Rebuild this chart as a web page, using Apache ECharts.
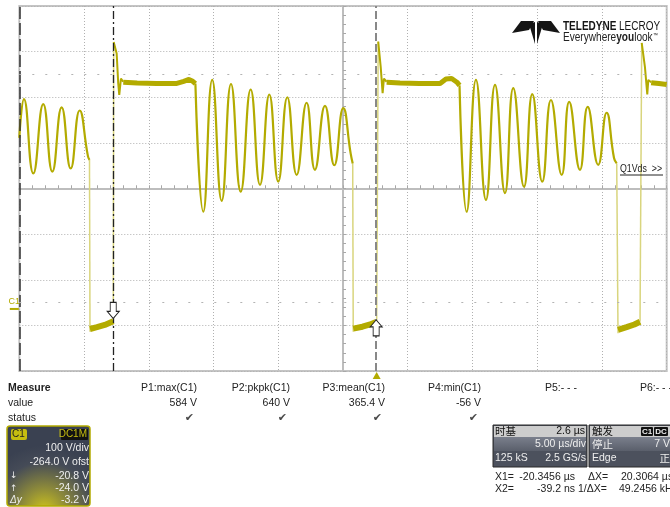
<!DOCTYPE html>
<html><head><meta charset="utf-8">
<script src="https://cdn.jsdelivr.net/npm/echarts@6/dist/echarts.min.js"></script>
<style>html,body{margin:0;padding:0;background:#fff}#c{width:670px;height:507px}</style>
</head><body><div id="c"></div>
<script>
// ---- scope settings ----
const timeRange = [-27.6, 22.4];      // µs (5 µs/div, delay 2.6 µs)
const voltRange = [-136, 664];        // V (100 V/div, offset -264 V)
const cursorX1 = -20.3456;            // µs
const cursorX2 = -0.0392;             // µs
const cursorY1 = -20.8;               // V
const cursorY2 = -24.0;               // V

// ---- waveform (time µs, volts) ----
const ringing1 = [[-27.60,375],[-27.24,460],[-26.52,297],[-25.75,449],[-25.05,301],[-24.33,442],[-23.63,308],[-22.94,435],[-22.30,335],[-22.18,327]];
const low1 = [[-22.14,-44],[-21.6,-40],[-21.0,-35],[-20.34,-27]];
const spike1 = [[-20.31,585],[-20.23,586],[-20.08,560],[-19.96,495],[-19.88,469],[-19.75,505],[-19.57,498]];
const plateau1 = [[-19.57,497],[-18.5,495],[-17.0,494],[-15.5,494],[-14.9,499],[-14.5,503],[-14.2,499],[-14.0,494]];
const ringing2 = [[-14.0,494],[-13.39,213],[-12.70,502],[-11.97,237],[-11.25,493],[-10.50,257],[-9.73,481],[-9.01,272],[-8.29,470],[-7.60,279],[-6.90,464],[-6.18,294],[-5.41,452],[-4.77,305],[-3.99,445],[-3.27,315],[-2.58,440],[-2.01,341],[-1.85,319]];
const low2 = [[-1.81,-43],[-1.1,-39],[-0.5,-34],[0.0,-28]];
const spike2 = [[0.12,586],[0.20,586],[0.31,531],[0.46,473],[0.56,505],[0.77,498]];
const plateau2 = [[0.77,497],[1.8,495],[3.3,494],[4.9,494],[5.35,504],[5.79,505],[6.2,497],[6.4,490]];
const ringing3 = [[6.4,490],[6.95,213],[7.67,502],[8.44,239],[9.14,491],[9.91,254],[10.55,484],[11.38,268],[12.02,471],[12.79,279],[13.46,458],[14.29,294],[14.87,454],[15.70,305],[16.30,443],[17.11,316],[17.76,430],[18.33,331],[18.54,319]];
const low3 = [[18.64,-46],[19.3,-40],[19.9,-34],[20.34,-28]];
const spike3 = [[20.47,583],[20.55,583],[20.72,530],[20.90,470],[20.98,502],[21.2,497]];
const plateau3 = [[21.2,496],[21.8,494],[22.4,492]];
const edges = [
  [[-22.18,327],[-22.14,-50]],
  [[-20.34,-27],[-20.31,585]],
  [[-1.85,319],[-1.81,-50]],
  [[0.0,-28],[0.12,586]],
  [[18.54,319],[18.64,-53]],
  [[20.34,-28],[20.47,583]]
];

// ---- measurement table text ----
const measHeaders = ['P1:max(C1)','P2:pkpk(C1)','P3:mean(C1)','P4:min(C1)','P5:- - -','P6:- - -'];
const measValues  = ['584 V','640 V','365.4 V','-56 V','',''];
const measStatus  = [true,true,true,true,false,false];
const measRight   = [197,290,385,481,577,672];

const FONT = '"Liberation Sans", Arial, sans-serif';
const CJK = '"Noto Sans CJK SC", "Liberation Sans", sans-serif';
const TRACE = '#b3ab00', EDGE = '#d9d57e';

function seriesOf(data, width, smooth, color, z) {
  return {type:'line', xAxisIndex:2, yAxisIndex:2, data:data, symbol:'none', showSymbol:false,
    smooth:smooth, lineStyle:{color:color, width:width}, silent:true, animation:false, z:z||3};
}
const series = [];
[low1, low2, low3].forEach(d => series.push(seriesOf(d, 6, false, TRACE, 3)));
[plateau1, plateau2, plateau3].forEach(d => series.push(seriesOf(d, 5, false, TRACE, 3)));
edges.forEach(d => series.push(seriesOf(d, 1.5, false, EDGE, 2)));
[spike1, spike2, spike3].forEach(d => series.push(seriesOf(d, 2, false, TRACE, 3)));
[ringing1, ringing2, ringing3].forEach(d => series.push(seriesOf(d, 2.2, 0.5, TRACE, 3)));

// grid decorations (left dashed edge, ±2.5 div dotted rows)
series.push({type:'line', xAxisIndex:0, yAxisIndex:0, data:[[-5,-4]], symbol:'none', silent:true, animation:false,
  markLine:{silent:true, symbol:['none','none'], label:{show:false}, animation:false,
    data:[
      {xAxis:-5, lineStyle:{color:'#333', width:1.5, type:[12,4]}},
      {yAxis:2.5, lineStyle:{color:'#b4b4b4', width:1, type:[2,11]}},
      {yAxis:-2.5, lineStyle:{color:'#b4b4b4', width:1, type:[2,11]}}
    ]}});

// cursors and markers on data axes
const downArrow = 'path://M3,0 L9,0 L9,9 L12,9 L6,16 L0,9 L3,9 Z';
const upArrow = 'path://M6,0 L12,7 L9,7 L9,16 L3,16 L3,7 L0,7 Z';
series.push({type:'line', xAxisIndex:2, yAxisIndex:2, data:[[timeRange[0], voltRange[0]]], symbol:'none',
  silent:true, animation:false, clip:false, z:6,
  markLine:{silent:true, symbol:['none','none'], label:{show:false}, animation:false,
    data:[
      {xAxis:cursorX1, lineStyle:{color:'#222', width:1.3, type:[8,3,2,3]}},
      {xAxis:cursorX2, lineStyle:{color:'#888', width:2, type:[8,3]}}
    ]},
  markPoint:{silent:true, animation:false, label:{show:false},
    data:[
      {coord:[cursorX1, cursorY1], symbol:downArrow, symbolSize:[12,16], symbolOffset:[0,-8],
        itemStyle:{color:'#fff', borderColor:'#222', borderWidth:1}},
      {coord:[cursorX2, cursorY2], symbol:upArrow, symbolSize:[12,16], symbolOffset:[0,8],
        itemStyle:{color:'#fff', borderColor:'#222', borderWidth:1}},
      {coord:[0, voltRange[0]], symbol:'triangle', symbolSize:[8,7], symbolOffset:[0,4.5],
        itemStyle:{color:TRACE}},
      {coord:[timeRange[0], 0], symbol:'rect', symbolSize:[9,2], symbolOffset:[-5,0],
        itemStyle:{color:TRACE},
        label:{show:true, formatter:'C1', position:'top', distance:2, color:TRACE, fontSize:9, fontFamily:FONT}}
    ]}
});

function gridAxis(dim, inside) {
  const isX = dim === 'x';
  return {type:'value', gridIndex:0, min:isX?-5:-4, max:isX?5:4, interval:1,
    axisLine:{show:true, onZero:true, onZeroAxisIndex:0, lineStyle:{color:'#bdbdbd', width:2}},
    axisTick:{show:true, inside:inside, length:3, lineStyle:{color:'#a8a8a8', width:1}},
    minorTick:{show:true, splitNumber:5, length:3, lineStyle:{color:'#a8a8a8', width:1}},
    axisLabel:{show:false},
    splitLine:{show:inside, lineStyle:{color:'#b0b0b0', width:1, type:[1,2]}},
    minorSplitLine:{show:false}};
}

// ---- graphic texts ----
const G = [];
function txt(text, x, y, o) {
  o = o || {};
  G.push({type:'text', x:x, y:y, z:20, silent:true, scaleX:o.sx || 1, style:{text:text, font:o.font || ('10.5px ' + FONT),
    fill:o.fill || '#222', align:o.align || 'left', verticalAlign:'middle'}});
}
function rect(x, y, w, h, fill, stroke, lw, r) {
  G.push({type:'rect', z:15, silent:true, shape:{x:x, y:y, width:w, height:h, r:r||0},
    style:{fill:fill, stroke:stroke||null, lineWidth:lw||0}});
}
// measurement table
txt('Measure', 8, 388, {font:'bold 10.5px ' + FONT});
txt('value', 8, 403);
txt('status', 8, 418);
measHeaders.forEach((h, i) => {
  txt(h, measRight[i], 388, {align:'right'});
  if (measValues[i]) txt(measValues[i], measRight[i], 403, {align:'right'});
  if (measStatus[i]) txt('\u2714', measRight[i] - 3, 418, {align:'right', fill:'#4a4a4a', font:'11px "DejaVu Sans", sans-serif'});
});
// C1 channel box
rect(7, 426, 83, 80, new echarts.graphic.RadialGradient(0.45, 1.05, 0.8, [
  {offset:0, color:'#cfc51c'}, {offset:0.35, color:'#8d8a3a'}, {offset:0.75, color:'#454b57'}, {offset:1, color:'#3a4151'}]),
  '#b3ab00', 1.5, 3);
rect(11, 429, 16, 11, '#c6bd10', null, 0, 2);
txt('C1', 12, 434.5, {fill:'#222', font:'10px ' + FONT});
rect(61, 429, 27, 11, '#111', null, 0, 1);
txt('DC1M', 87, 434.5, {fill:'#c6bd10', font:'10px ' + FONT, align:'right'});
txt('100 V/div', 89, 448, {fill:'#eee', align:'right'});
txt('-264.0 V ofst', 89, 462, {fill:'#eee', align:'right'});
txt('-20.8 V', 89, 476, {fill:'#eee', align:'right'});
txt('-24.0 V', 89, 488.5, {fill:'#eee', align:'right'});
txt('-3.2 V', 89, 500.5, {fill:'#eee', align:'right'});
txt('\u2193', 10, 476, {fill:'#eee', font:'9px "DejaVu Sans", sans-serif'});
txt('\u2191', 10, 488.5, {fill:'#eee', font:'9px "DejaVu Sans", sans-serif'});
txt('\u0394y', 10, 500.5, {fill:'#eee', font:'italic 10px ' + FONT});
// timebase box
rect(493, 425, 94, 42, '#4c515d', '#2b2b2b', 1);
rect(494, 426, 92, 11, '#cdcdcd');
rect(494, 437, 92, 14, new echarts.graphic.LinearGradient(0,0,0,1,[{offset:0,color:'#7a7f8c'},{offset:1,color:'#5a5f6b'}]));
txt('\u65f6\u57fa', 495, 431, {fill:'#111', font:'10.5px ' + CJK});
txt('2.6 \u00b5s', 585, 431, {fill:'#111', align:'right'});
txt('5.00 \u00b5s/div', 586, 444, {fill:'#eee', align:'right'});
txt('125 kS', 495, 458.5, {fill:'#eee'});
txt('2.5 GS/s', 586, 458.5, {fill:'#eee', align:'right'});
// trigger box
rect(589, 425, 83, 42, '#4c515d', '#2b2b2b', 1);
rect(590, 426, 81, 11, '#cdcdcd');
rect(590, 437, 81, 14, new echarts.graphic.LinearGradient(0,0,0,1,[{offset:0,color:'#7a7f8c'},{offset:1,color:'#5a5f6b'}]));
txt('\u89e6\u53d1', 592, 431, {fill:'#111', font:'10.5px ' + CJK});
rect(641, 427, 12, 9, '#111', null, 0, 1);
txt('C1', 647, 431.5, {fill:'#eee', font:'bold 8px ' + FONT, align:'center'});
rect(654, 427, 14, 9, '#111', null, 0, 1);
txt('DC', 661, 431.5, {fill:'#eee', font:'bold 8px ' + FONT, align:'center'});
txt('\u505c\u6b62', 592, 444, {fill:'#eee', font:'10.5px ' + CJK});
txt('7 V', 670, 444, {fill:'#eee', align:'right'});
txt('Edge', 592, 458.5, {fill:'#eee'});
txt('\u6b63', 670, 458.5, {fill:'#eee', font:'10.5px ' + CJK, align:'right'});
// cursor readouts
txt('X1=', 495, 477);
txt('-20.3456 \u00b5s', 575, 477, {align:'right'});
txt('\u0394X=', 588, 477);
txt('20.3064 \u00b5s', 621, 477);
txt('X2=', 495, 489.5);
txt('-39.2 ns', 575, 489.5, {align:'right'});
txt('1/\u0394X=', 578, 489.5);
txt('49.2456 kHz', 619, 489.5);
// trace label
txt('Q1Vds  >>', 620, 169, {font:'10px ' + FONT, fill:'#222', sx:0.88});
G.push({type:'line', z:20, silent:true, shape:{x1:620, y1:175, x2:663, y2:175}, style:{stroke:'#222', lineWidth:1}});
// logo
[
  [[512,33],[521,21],[534,21],[529,30]],
  [[560,33],[551,21],[538,21],[543,30]],
  [[529,24],[535,22],[535,44]],
  [[543,24],[537,22],[537,44]]
].forEach(p => G.push({type:'polygon', z:20, silent:true, shape:{points:p}, style:{fill:'#151515'}}));
G.push({type:'text', x:563, y:26.5, z:20, silent:true, scaleX:0.8, style:{
  text:'{b|TELEDYNE} {r|LECROY}', verticalAlign:'middle',
  rich:{b:{font:'bold 12.5px ' + FONT, fill:'#151515'}, r:{font:'12.5px ' + FONT, fill:'#151515'}}}});
G.push({type:'text', x:563, y:38, z:20, silent:true, scaleX:0.84, style:{
  text:'{r|Everywhere}{b|you}{r|look}{t|\u2122}', verticalAlign:'middle',
  rich:{b:{font:'bold 12px ' + FONT, fill:'#222'}, r:{font:'12px ' + FONT, fill:'#222'}, t:{font:'6px ' + FONT, fill:'#222', verticalAlign:'top'}}}});

const chart = echarts.init(document.getElementById('c'), null, {renderer:'canvas'});
chart.setOption({
  animation:false,
  backgroundColor:'#ffffff',
  grid:{left:19.3, right:3.3, top:6, bottom:136, show:true, borderColor:'#c4c4c4', borderWidth:2, backgroundColor:'transparent'},
  xAxis:[gridAxis('x', true), gridAxis('x', false),
    {type:'value', gridIndex:0, min:timeRange[0], max:timeRange[1], show:false, splitLine:{show:false}}],
  yAxis:[gridAxis('y', true), gridAxis('y', false),
    {type:'value', gridIndex:0, min:voltRange[0], max:voltRange[1], show:false, splitLine:{show:false}}],
  series:series,
  graphic:G
});
</script></body></html>
